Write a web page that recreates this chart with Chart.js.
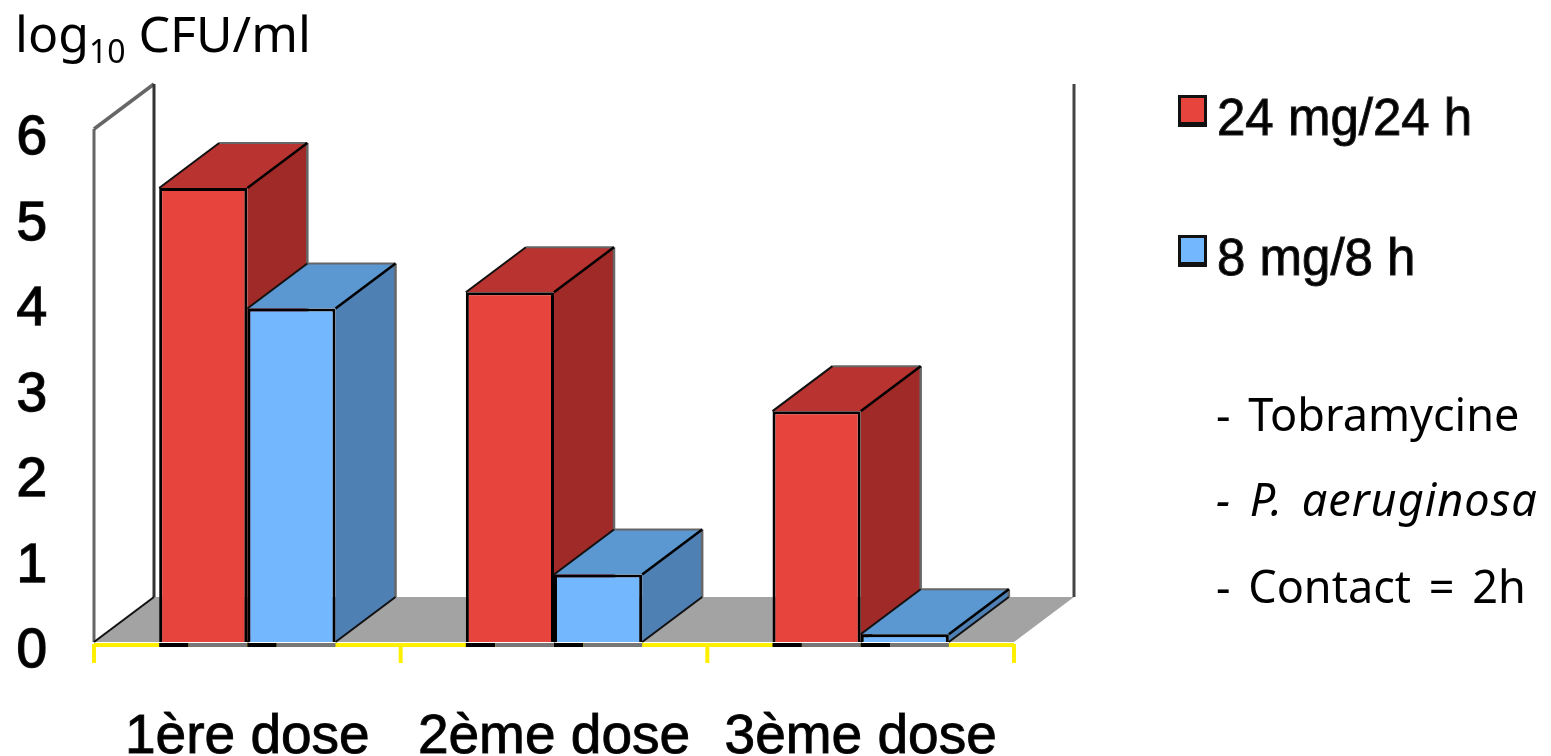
<!DOCTYPE html>
<html lang="fr">
  <head>
    <meta charset="UTF-8" />
    <title>log10 CFU/ml</title>
    <style>
      html, body { margin: 0; background: #fff; overflow: hidden; }
      #wrap { position: relative; width: 1551px; height: 756px; }
      canvas { position: absolute; left: 0; top: 0; }
      .note {
        position: absolute;
        font-family: "Noto Sans", sans-serif;
        color: #000;
        white-space: pre;
        line-height: 1;
        font-size: 45px;
        word-spacing: 6px;
      }
      .note sub { font-size: 32px; line-height: 0; vertical-align: -11px; }
    </style>
  </head>
  <body>
    <div id="wrap">
      <canvas id="chart" width="1551" height="756"></canvas>
      <div class="note" style="left: 15px; top: 8px; font-size: 50px; word-spacing: 0">log<sub>10</sub> CFU/ml</div>
      <div class="note" style="left: 1216px; top: 391px">- Tobramycine</div>
      <div class="note" style="left: 1216px; top: 476px; font-style: italic; letter-spacing: 1px">- P. aeruginosa</div>
      <div class="note" style="left: 1216px; top: 563px">- Contact = 2h</div>
    </div>
    <script src="https://cdn.jsdelivr.net/npm/chart.js@4.4.0/dist/chart.umd.min.js"></script>
    <script>
      const categories = ['1ère dose', '2ème dose', '3ème dose'];
      const dose24 = [5.31, 4.09, 2.7];
      const dose8 = [3.9, 0.79, 0.09];
      const seriesNames = ['24 mg/24 h', '8 mg/8 h'];

      const depthX = 60;
      const depthY = 45;
      const faces = [
        { front: '#e8443e', top: '#b93330', side: '#a02a28' },
        { front: '#73b7ff', top: '#5b97d0', side: '#4e80b4' },
      ];

      function poly(ctx, pts, fill) {
        ctx.beginPath();
        pts.forEach((p, i) => (i ? ctx.lineTo(p[0], p[1]) : ctx.moveTo(p[0], p[1])));
        ctx.closePath();
        ctx.fillStyle = fill;
        ctx.fill();
      }

      function line(ctx, x1, y1, x2, y2, color, width) {
        ctx.beginPath();
        ctx.moveTo(x1, y1);
        ctx.lineTo(x2, y2);
        ctx.strokeStyle = color;
        ctx.lineWidth = width;
        ctx.stroke();
      }

      // Floor, walls and the yellow axis behind the bars, then the 3D faces of each bar
      const box3d = {
        id: 'box3d',
        beforeDatasetsDraw(chart) {
          const ctx = chart.ctx;
          const { left, right, top, bottom } = chart.chartArea;
          ctx.save();

          poly(ctx, [
            [left, bottom],
            [left + depthX, bottom - depthY],
            [right + depthX, bottom - depthY],
            [right, bottom],
          ], '#a3a3a3');

          // left wall
          poly(ctx, [
            [left, top],
            [left + depthX, top - depthY],
            [left + depthX, bottom - depthY],
            [left, bottom],
          ], '#fff');
          line(ctx, left, top, left, bottom, '#666', 3);
          line(ctx, left, top, left + depthX, top - depthY, '#666', 3.5);
          line(ctx, left + depthX, top - depthY, left + depthX, bottom - depthY, '#333', 3);
          line(ctx, left, bottom, left + depthX, bottom - depthY, '#111', 2);

          // right wall edge
          line(ctx, right + depthX, top - depthY, right + depthX, bottom - depthY, '#444', 3);

          // yellow axis and its ticks
          const n = categories.length;
          line(ctx, left, bottom + 3, right, bottom + 3, '#ffef00', 4);
          for (let i = 0; i <= n; i++) {
            const x = left + ((right - left) * i) / n;
            line(ctx, x, bottom + 2, x, bottom + 21, '#ffef00', 4);
          }

          // bar shadow on the axis
          chart.data.datasets.forEach((ds, d) => {
            chart.getDatasetMeta(d).data.forEach((bar) => {
              const l = bar.x - bar.width / 2;
              const r = bar.x + bar.width / 2;
              line(ctx, l, bottom + 3, l + bar.width / 3, bottom + 3, '#000', 4);
              line(ctx, l + bar.width / 3, bottom + 3, r, bottom + 3, '#777', 4);
            });
          });

          // sides and tops, red first so that the blue top covers it
          categories.forEach((c, i) => {
            chart.data.datasets.forEach((ds, d) => {
              const bar = chart.getDatasetMeta(d).data[i];
              const l = bar.x - bar.width / 2;
              const r = bar.x + bar.width / 2;
              const y = bar.y;
              const b = bar.base;
              poly(ctx, [[r, y], [r + depthX, y - depthY], [r + depthX, b - depthY], [r, b]], faces[d].side);
              poly(ctx, [[l, y], [l + depthX, y - depthY], [r + depthX, y - depthY], [r, y]], faces[d].top);
              line(ctx, l + depthX, y - depthY, r + depthX, y - depthY, '#666', 2);
              line(ctx, r + depthX, y - depthY, r + depthX, b - depthY, '#666', 2.5);
              line(ctx, r, b, r + depthX, b - depthY, '#111', 2);
              line(ctx, l, y, l + depthX, y - depthY, '#111', 2);
              line(ctx, r, y, r + depthX, y - depthY, '#000', 2.5);
            });
          });
          ctx.restore();
        },
        // Legend: swatches and labels on the right
        afterDraw(chart) {
          const ctx = chart.ctx;
          const legendX = 1178;
          const legendY = [95, 235];
          ctx.save();
          chart.data.datasets.forEach((ds, d) => {
            const y = legendY[d];
            ctx.fillStyle = '#111';
            ctx.fillRect(legendX, y, 29, 32);
            ctx.fillStyle = ds.backgroundColor;
            ctx.fillRect(legendX + 3, y + 3, 23, 24);
            ctx.font = '51px "Liberation Sans"';
            ctx.textBaseline = 'alphabetic';
            ctx.fillStyle = '#000';
            ctx.strokeStyle = '#222';
            ctx.lineWidth = 1;
            ctx.fillText(ds.label, 1217, y + 40);
            ctx.strokeText(ds.label, 1217, y + 40);
          });
          ctx.restore();
        },
      };

      new Chart(document.getElementById('chart'), {
        type: 'bar',
        data: {
          labels: categories,
          datasets: [
            {
              label: seriesNames[0],
              data: dose24,
              backgroundColor: faces[0].front,
              borderColor: '#000',
              borderWidth: 3,
            },
            {
              label: seriesNames[1],
              data: dose8,
              backgroundColor: faces[1].front,
              borderColor: '#000',
              borderWidth: 3,
            },
          ],
        },
        options: {
          responsive: false,
          animation: false,
          layout: { padding: { left: 0, top: 129, right: 537, bottom: 0 } },
          datasets: { bar: { categoryPercentage: 0.575, barPercentage: 1 } },
          plugins: { legend: { display: false }, tooltip: { enabled: false } },
          scales: {
            x: {
              grid: { display: false },
              border: { display: false },
              afterFit: (scale) => { scale.height = 114; },
              ticks: {
                color: '#000',
                font: { family: '"Liberation Sans"', size: 55 },
                textStrokeColor: '#222',
                textStrokeWidth: 1,
                padding: 55,
                maxRotation: 0,
                autoSkip: false,
              },
            },
            y: {
              min: 0,
              max: 6,
              grid: { display: false },
              border: { display: false },
              afterFit: (scale) => { scale.width = 94; },
              ticks: {
                stepSize: 1,
                color: '#000',
                font: { family: '"Liberation Sans"', size: 55 },
                textStrokeColor: '#222',
                textStrokeWidth: 1.5,
                padding: 39,
                labelOffset: 10,
              },
            },
          },
        },
        plugins: [box3d],
      });
    </script>
  </body>
</html>
